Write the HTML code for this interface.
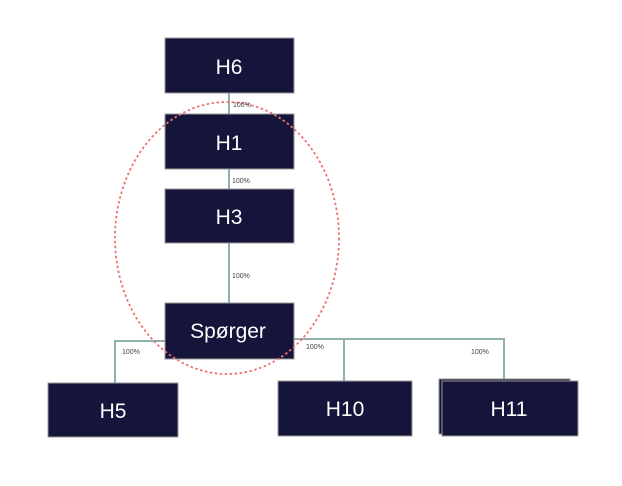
<!DOCTYPE html>
<html><head><style>
body{margin:0;background:#fff;width:622px;height:486px;overflow:hidden}
svg{display:block}
</style></head><body>
<svg width="622" height="486" xmlns="http://www.w3.org/2000/svg" font-family="Liberation Sans, sans-serif">
<g stroke="#8fb0aa" stroke-width="2" fill="none">
<line x1="229" y1="93" x2="229" y2="114"/>
<line x1="229" y1="169" x2="229" y2="189"/>
<line x1="229" y1="243" x2="229" y2="303"/>
<polyline points="165,341 115,341 115,383"/>
<polyline points="293,339 504,339 504,380"/>
<line x1="344" y1="339" x2="344" y2="381"/>
</g>
<g fill="#15143a" stroke="#9a9a9a" stroke-width="1">
<rect x="165" y="38" width="129" height="55"/>
<rect x="165" y="114" width="129" height="55"/>
<rect x="165" y="189" width="129" height="54"/>
<rect x="165" y="303" width="129" height="56"/>
<rect x="48" y="383" width="130" height="54"/>
<rect x="278" y="381" width="134" height="55"/>
<rect x="439" y="379" width="131" height="55"/>
<rect x="442" y="381" width="136" height="55"/>
</g>
<ellipse cx="227" cy="238" rx="112" ry="136" fill="none" stroke="#f07070" stroke-width="1.8" stroke-dasharray="2.5,2.5"/>
<g fill="#fff" font-size="21" text-anchor="middle">
<text x="229" y="74">H6</text>
<text x="229" y="150">H1</text>
<text x="229" y="224">H3</text>
<text x="228" y="338">Spørger</text>
<text x="113" y="418">H5</text>
<text x="345" y="416">H10</text>
<text x="509" y="416">H11</text>
</g>
<g fill="#444" font-size="7">
<text x="233" y="107">100%</text>
<text x="232" y="183">100%</text>
<text x="232" y="278">100%</text>
<text x="122" y="354">100%</text>
<text x="306" y="349">100%</text>
<text x="471" y="354">100%</text>
</g>
</svg>
</body></html>
